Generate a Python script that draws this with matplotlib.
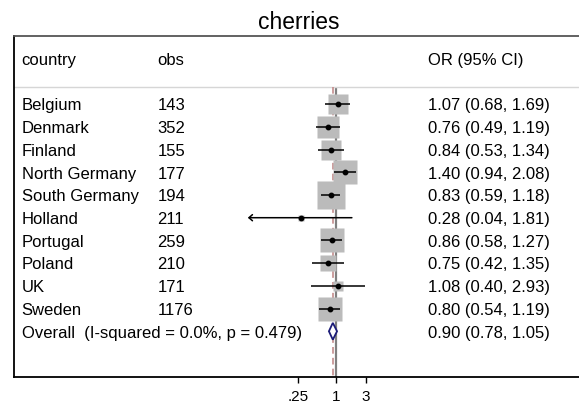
import matplotlib.pyplot as plt
import numpy as np

plt.rcParams['font.family'] = ['Liberation Sans', 'DejaVu Sans']

# per-country odds ratios with 95% CI and percentage weights
countries = ["Belgium", "Denmark", "Finland", "North Germany", "South Germany",
             "Holland", "Portugal", "Poland", "UK", "Sweden"]
obs = [143, 352, 155, 177, 194, 211, 259, 210, 171, 1176]
odds = [1.07, 0.76, 0.84, 1.40, 0.83, 0.28, 0.86, 0.75, 1.08, 0.80]
ci_low = [0.68, 0.49, 0.53, 0.94, 0.59, 0.04, 0.58, 0.42, 0.40, 0.54]
ci_high = [1.69, 1.19, 1.34, 2.08, 1.18, 1.81, 1.27, 1.35, 2.93, 1.19]
weights = [10.4, 10.9, 10.0, 13.7, 18.0, 0.6, 14.0, 6.3, 2.2, 13.8]

# pooled estimate
overall_or = 0.90
overall_ci = (0.78, 1.05)
i_squared = 0.0
p_het = 0.479

xticks = [0.25, 1, 3]
xtick_labels = [".25", "1", "3"]

W, H = 579, 407
fig = plt.figure(figsize=(W / 100, H / 100), dpi=100)

# plot region in pixels: left 14, top 36, bottom axis at 376.7
left, top, bottom = 14, 36, 376.7
ax = fig.add_axes([left / W, (H - bottom) / H, 1 - left / W, (bottom - top) / H])

# log-scale x: 1 sits at x=335.7 px, 27.3 px per unit of ln(OR)
px_per_ln = 27.3
x_one = 335.7
ax.set_xscale('log')
ax.set_xlim(np.exp((left - x_one) / px_per_ln), np.exp((W - x_one) / px_per_ln))
ax.set_ylim(13, -2)

rows = np.arange(1, len(countries) + 1)
overall_row = len(countries) + 1
base_off = 0.28  # baseline offset so text sits centred on the row

# reference lines
ax.plot([1, 1], [0.25, 13], color='#808080', lw=1.6, zorder=1, solid_capstyle='butt')
ax.plot([overall_or, overall_or], [0.25, 13], color='#c48c8c', lw=1.2,
        dashes=(4, 2.5), zorder=1.5)

# header separator
ax.axhline(0.25, color='#d6d6d6', lw=1.0, zorder=1)

for r, o, lo, hi, w in zip(rows, odds, ci_low, ci_high, weights):
    side_px = 6.5 * np.sqrt(w)
    ax.plot(o, r, marker='s', ms=side_px * 0.72, color='#bbbbbb', mec='none', zorder=2)
    if lo < xticks[0]:
        # CI running off the labelled range gets an arrow tip
        ax.annotate('', xy=(lo, r), xytext=(hi, r),
                    arrowprops=dict(arrowstyle='->,head_length=0.25,head_width=0.22',
                                    color='black', lw=1.1, shrinkA=0, shrinkB=0),
                    zorder=3)
    else:
        ax.plot([lo, hi], [r, r], color='black', lw=1.1, zorder=3, solid_capstyle='butt')
    ax.plot(o, r, marker='o', ms=3.2, color='black', zorder=4)

# pooled diamond
h = 0.37
dx = [overall_ci[0], overall_or, overall_ci[1], overall_or, overall_ci[0]]
dy = [overall_row, overall_row - h, overall_row, overall_row + h, overall_row]
ax.fill(dx, dy, facecolor='white', edgecolor='#1c1c78', lw=1.3, zorder=4)

# text columns
tr = ax.get_yaxis_transform()
col_country = (21.7 - left) / (W - left)
col_obs = (157.5 - left) / (W - left)
col_or = (428 - left) / (W - left)
fs = 12

ax.text(col_country, -1 + base_off, "country", transform=tr, fontsize=fs, va='baseline')
ax.text(col_obs, -1 + base_off, "obs", transform=tr, fontsize=fs, va='baseline')
ax.text(col_or, -1 + base_off, "OR (95% CI)", transform=tr, fontsize=fs, va='baseline')

for r, c, n, o, lo, hi in zip(rows, countries, obs, odds, ci_low, ci_high):
    ax.text(col_country, r + base_off, c, transform=tr, fontsize=fs, va='baseline')
    ax.text(col_obs, r + base_off, str(n), transform=tr, fontsize=fs, va='baseline')
    ax.text(col_or, r + base_off, f"{o:.2f} ({lo:.2f}, {hi:.2f})",
            transform=tr, fontsize=fs, va='baseline')

ax.text(col_country, overall_row + base_off,
        f"Overall  (I-squared = {i_squared:.1f}%, p = {p_het:.3f})",
        transform=tr, fontsize=fs, va='baseline')
ax.text(col_or, overall_row + base_off,
        f"{overall_or:.2f} ({overall_ci[0]:.2f}, {overall_ci[1]:.2f})",
        transform=tr, fontsize=fs, va='baseline')

# frame
ax.spines['right'].set_visible(False)
ax.spines['left'].set_color('black')
ax.spines['left'].set_linewidth(1.3)
ax.spines['top'].set_color('#555555')
ax.spines['top'].set_linewidth(1.3)
ax.spines['bottom'].set_color('black')
ax.spines['bottom'].set_linewidth(1.3)

ax.set_xticks(xticks)
ax.set_xticklabels(xtick_labels)
ax.xaxis.set_minor_locator(plt.NullLocator())
ax.tick_params(axis='x', length=4.5, width=1.0, pad=5, labelsize=11)
ax.set_yticks([])

fig.text(299 / W, 1 - 29.3 / H, "cherries", ha='center', va='baseline', fontsize=16.5)

fig.savefig('out.png', dpi=100)
